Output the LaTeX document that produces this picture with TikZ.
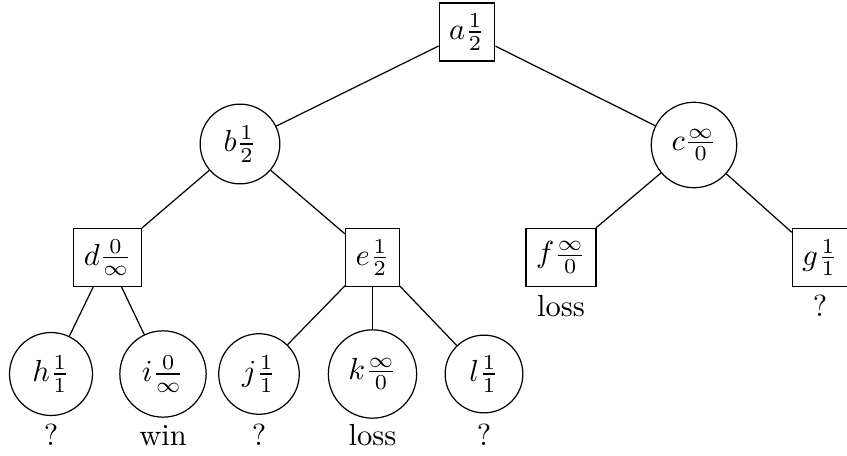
\documentclass[tikz,border=0pt]{standalone}
\usetikzlibrary{calc}
\begin{document}
\begin{tikzpicture}[x=0.328pt,y=-0.328pt,
  sq/.style={draw,rectangle,inner sep=3.3pt,minimum height=19pt},
  rd/.style={draw,circle,inner sep=3.6pt,minimum size=25.5pt},
  lab/.style={anchor=base,inner sep=0pt},
  edge/.style={draw,line width=0.4pt}]
\useasboundingbox (0,0) rectangle (847,456);
\node[sq] (a) at (467,32) {$a\frac{1}{2}$};
\node[rd] (b) at (240,144) {$b\frac{1}{2}$};
\node[rd] (c) at (694,145) {$c\frac{\infty}{0}$};
\node[sq] (d) at (107.5,257.5) {$d\frac{0}{\infty}$};
\node[sq] (e) at (372.5,257.5) {$e\frac{1}{2}$};
\node[sq] (f) at (561,257.5) {$f\frac{\infty}{0}$};
\node[sq] (g) at (820,257.5) {$g\frac{1}{1}$};
\node[rd] (h) at (51,374) {$h\frac{1}{1}$};
\node[rd] (i) at (163,374) {$i\frac{0}{\infty}$};
\node[rd] (j) at (259,374) {$j\frac{1}{1}$};
\node[rd] (k) at (372.5,374) {$k\frac{\infty}{0}$};
\node[rd] (l) at (484,374) {$l\frac{1}{1}$};
\node[lab] (lf) at (561,316) {loss};
\node[lab] (lg) at (820,316) {?};
\node[lab] (lh) at (51,445) {?};
\node[lab] (li) at (163,445) {win};
\node[lab] (lj) at (259,445) {?};
\node[lab] (lk) at (372.5,445) {loss};
\node[lab] (ll) at (484,445) {?};
\path[edge] (a) -- (b);
\path[edge] (a) -- (c);
\path[edge] (b) -- (d);
\path[edge] (b) -- (e);
\path[edge] (c) -- (f);
\path[edge] (c) -- (g);
\path[edge] (d) -- (h);
\path[edge] (d) -- (i);
\path[edge] (e) -- (j);
\path[edge] (e) -- (k);
\path[edge] (e) -- (l);
\end{tikzpicture}
\end{document}
